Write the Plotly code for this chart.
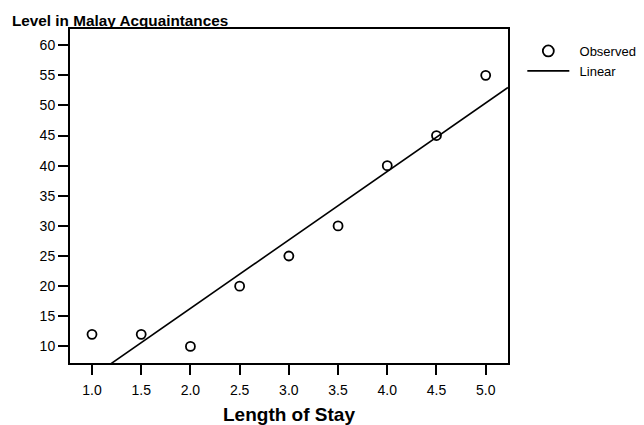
import numpy as np
import plotly.graph_objects as go

# Data
length_of_stay = [1.0, 1.5, 2.0, 2.5, 3.0, 3.5, 4.0, 4.5, 5.0]
malay_acquaintances = [12, 12, 10, 20, 25, 30, 40, 45, 55]
x_tick_vals = [1.0, 1.5, 2.0, 2.5, 3.0, 3.5, 4.0, 4.5, 5.0]
y_tick_vals = [10, 15, 20, 25, 30, 35, 40, 45, 50, 55, 60]

x_range = [0.7765, 5.2266]
y_range = [7.24, 62.69]

# Linear fit (ordinary least squares)
slope, intercept = np.polyfit(length_of_stay, malay_acquaintances, 1)
fit_x = np.array(x_range)
fit_y = slope * fit_x + intercept

FONT = "Liberation Sans, Arial, sans-serif"

fig = go.Figure()

# observed points (no legend entry - legend uses larger marker)
fig.add_trace(go.Scatter(
    x=length_of_stay, y=malay_acquaintances, mode="markers",
    marker=dict(symbol="circle-open", size=9, color="black",
                line=dict(width=1.8, color="black")),
    showlegend=False, cliponaxis=False, hoverinfo="x+y",
))
# legend entry for Observed
fig.add_trace(go.Scatter(
    x=[None], y=[None], mode="markers", name="\u2009\u2009Observed",
    marker=dict(symbol="circle-open", size=11, color="black",
                line=dict(width=1.8, color="black")),
))
# linear fit
fig.add_trace(go.Scatter(
    x=fit_x, y=fit_y, mode="lines", name="\u2009\u2009Linear",
    line=dict(color="black", width=1.6),
))

axis_common = dict(
    showline=True, linecolor="black", linewidth=2, mirror=True,
    ticks="outside", ticklen=10, tickwidth=2, tickcolor="black",
    showgrid=False, zeroline=False, automargin=False,
    tickfont=dict(family=FONT, size=14, color="black"),
)

fig.update_layout(
    width=644, height=425,
    margin=dict(l=70, r=136, t=29, b=62, autoexpand=False),
    paper_bgcolor="white", plot_bgcolor="white",
    font=dict(family=FONT, color="black"),
    title=dict(text="<b>Level in Malay Acquaintances</b>",
               font=dict(family=FONT, size=15.3, color="black"),
               xref="container", yref="container",
               x=12 / 644, xanchor="left",
               y=1 - 21 / 425, yanchor="middle"),
    xaxis=dict(range=x_range, tickvals=x_tick_vals, tickformat=".1f",
               ticklabelstandoff=3,
               title=dict(text="<b>Length of Stay</b>",
                          font=dict(family=FONT, size=19, color="black"),
                          standoff=14),
               **axis_common),
    yaxis=dict(range=y_range, tickvals=y_tick_vals, **axis_common),
    legend=dict(x=1.0327, y=0.979, xanchor="left", yanchor="top",
                font=dict(family=FONT, size=13, color="black"),
                itemwidth=42, tracegroupgap=0,
                bgcolor="rgba(0,0,0,0)"),
)

fig.write_html("out.html")
